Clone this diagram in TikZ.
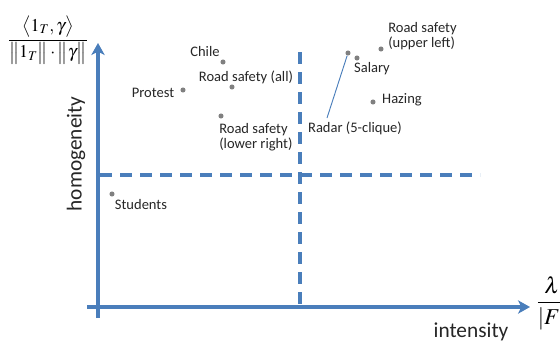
\documentclass[tikz,border=0pt]{standalone}
\usepackage{mathptmx}
\usepackage[no-math]{fontspec}
\setmainfont{Carlito}
\usetikzlibrary{arrows.meta}
\definecolor{axisblue}{HTML}{4A7EBB}
\definecolor{dotgray}{HTML}{808080}
\begin{document}
\begin{tikzpicture}[x=0.75pt,y=-0.75pt,
  axis/.style={draw=axisblue,line width=2.8pt,-{Stealth[length=9pt,width=10pt,inset=2.5pt]}},
  quadline/.style={draw=axisblue,line width=2.5pt,dash pattern=on 9pt off 6pt},
  pt/.style={circle,fill=dotgray,inner sep=0pt,minimum size=3.8pt},
  lbl/.style={inner sep=0pt,font=\fontsize{10.9}{11.5}\selectfont,text=black!85},
  multi/.style={lbl,align=left},
  axlbl/.style={inner sep=0pt,font=\fontsize{16}{18}\selectfont,text=black!85},
  frac/.style={inner sep=0pt,font=\fontsize{13.5}{15}\selectfont},
  leader/.style={draw=axisblue,line width=0.7pt}
  ]
\useasboundingbox (0,0) rectangle (560,343);
% axes
\coordinate (ybot) at (98,318);
\coordinate (ytop) at (98,43);
\coordinate (xleft) at (87,307);
\coordinate (xright) at (530,307);
\draw[axis] (ybot) -- (ytop);
\draw[axis] (xleft) -- (xright);
% quadrant lines
\coordinate (vtop) at (300,52);
\coordinate (vbot) at (300,307);
\coordinate (hleft) at (100,175);
\coordinate (hright) at (480,175);
\draw[quadline] (vtop) -- (vbot);
\draw[quadline] (hleft) -- (hright);
% points
\node[pt] (chile) at (223,62) {};
\node[pt] (rsall) at (232,87) {};
\node[pt] (protest) at (183,90) {};
\node[pt] (rslr) at (221,116) {};
\node[pt] (students) at (112,194) {};
\node[pt] (radar) at (348,53) {};
\node[pt] (salary) at (357,58) {};
\node[pt] (rsul) at (381,49) {};
\node[pt] (hazing) at (373,102) {};
% labels
\node[lbl] (chilel) at (205,52) {Chile};
\node[lbl] (rsalll) at (246,77) {Road safety (all)};
\node[lbl] (protestl) at (153,93) {Protest};
\node[multi,anchor=west] (rslrl) at (219,137) {Road safety\\(lower right)};
\node[lbl] (studentsl) at (141,205) {Students};
\node[multi,anchor=west] (rsull) at (388,36) {Road safety\\(upper left)};
\node[lbl] (salaryl) at (372,69) {Salary};
\node[lbl] (hazingl) at (402,100) {Hazing};
\node[lbl] (radarl) at (355,128) {Radar (5-clique)};
\coordinate (radarend) at (327,118);
\draw[leader] (radarend) -- (radar);
% axis labels
\node[axlbl,rotate=90] (ylbl) at (76,154) {homogeneity};
\node[axlbl] (xlbl) at (471,332) {intensity};
\node[frac] (yfrac) at (48,40) {$\displaystyle\frac{\bigl\langle 1_T,\gamma\bigr\rangle}{\bigl\|1_T\bigr\|\cdot\bigl\|\gamma\bigr\|}$};
\node[frac,font=\fontsize{17}{19}\selectfont,anchor=west] (xfrac) at (536,303) {$\displaystyle\frac{\lambda}{|F|}$};
\end{tikzpicture}
\end{document}
